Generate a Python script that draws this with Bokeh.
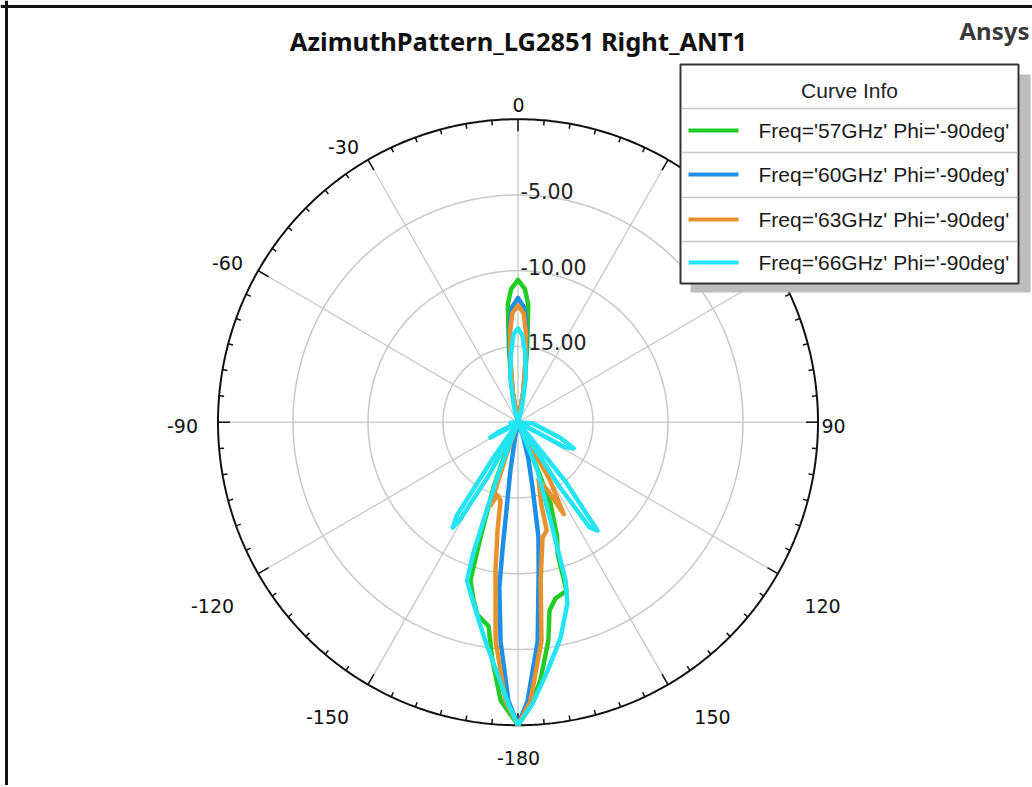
import numpy as np
from bokeh.plotting import figure
from bokeh.models import ColumnDataSource, Range1d, Span
from bokeh.core.properties import value
from bokeh.embed import file_html
from bokeh.resources import INLINE

# ---------------- data ----------------
TITLE = "AzimuthPattern_LG2851 Right_ANT1"
BRAND = "Ansys"
LEGEND_TITLE = "Curve Info"
SERIES_LABELS = ["Freq='57GHz' Phi='-90deg'", "Freq='60GHz' Phi='-90deg'",
                 "Freq='63GHz' Phi='-90deg'", "Freq='66GHz' Phi='-90deg'"]

RADIAL_MIN = -20.0
RADIAL_MAX = 0.0
RING_VALUES = [-15.0, -10.0, -5.0]
RING_LABELS = ["-15.00", "-10.00", "-5.00"]
SPOKE_ANGLES = [0, 30, 60, 90, 120, 150, 180, 210, 240, 270, 300, 330]
ANGLE_LABEL_VALUES = [0, -30, -60, -90, -120, -150, -180, 150, 120, 90]
ANGLE_LABEL_TEXTS = ["0", "-30", "-60", "-90", "-120", "-150", "-180", "150", "120", "90"]

# 57 GHz (green)
ANG_57 = [-180, -176.4, -173.8, -171.7, -168, -165.8, -163.1, -161.8, -159.2, -157, -155, -120,
          -30, -16, -13, -10, -7, -5, -3, 0, 3, 5, 7, 10, 13, 16, 30,
          120, 155, 157, 158, 161, 163.1, 163.8, 167.9, 170.4, 172, 175, 177.5, 180]
DB_57 = [0, -1.6, -4.2, -6.4, -7.0, -7.9, -9.1, -12.0, -15.4, -18.0, -21.0, -26.0,
         -25.0, -21.0, -19.0, -17.5, -15.0, -12.2, -11.2, -10.6, -11.2, -12.2, -15.0, -17.5, -19.0, -21.0, -25.0,
         -26.0, -21.0, -17.0, -14.2, -12.0, -10.9, -8.4, -8.1, -7.4, -5.45, -2.9, -1.2, 0]

# 60 GHz (blue)
ANG_60 = [-180, -178, -175.4, -173.5, -173, -172.5, -171, -169, -166, -120,
          -30, -14, -10, -7, -5, -3, 0, 3, 5, 7, 10, 14, 30,
          120, 157, 160, 164, 167.3, 169.8, 172, 174.8, 178, 180]
DB_60 = [0, -1.6, -5.5, -9.0, -11.5, -14.0, -16.7, -19.0, -21.0, -26.0,
         -25.0, -21.0, -18.0, -15.5, -13.5, -12.4, -11.8, -12.4, -13.5, -15.5, -18.0, -21.0, -25.0,
         -26.0, -21.0, -19.0, -17.5, -15.6, -12.3, -10.1, -5.5, -1.6, 0]

# 63 GHz (orange)
ANG_63 = [-180, -177.4, -174.1, -171.3, -169.2, -167.3, -164, -161.6, -160, -158, -120,
          -30, -14, -10, -7, -5, -3, 0, 3, 5, 7, 10, 14, 30,
          120, 148, 151, 153.3, 156, 160, 164, 165, 167.9, 171.8, 173.8, 177.4, 180]
DB_63 = [0, -1.6, -5.5, -10.1, -12.7, -14.7, -15.0, -14.2, -18.0, -21.0, -26.0,
         -25.0, -21.0, -18.0, -16.0, -14.0, -12.8, -12.3, -12.8, -14.0, -16.0, -18.0, -21.0, -25.0,
         -26.0, -21.0, -15.6, -13.2, -15.0, -16.0, -14.4, -12.6, -12.2, -9.4, -5.5, -1.6, 0]

# 66 GHz (cyan)
ANG_66 = [-180, -178, -175, -171, -166, -162, -161, -160.5, -159, -157, -155, -151, -149, -148,
          -146.5, -145, -143, -130, -121, -119, -116, -112, -95, -85,
          -30, -20, -15, -10, -6, -3, 0, 3, 6, 10, 15, 20, 30,
          85, 95, 110, 115, 118, 122, 130, 138, 141, 143.5, 145.5, 147, 149, 154,
          157.8, 161.5, 163.1, 164.6, 168.7, 173.1, 177, 180]
DB_66 = [0, -1.4, -3.5, -5.6, -7.7, -9.0, -10.8, -13.1, -16.5, -20.5, -22.0, -16.0, -12.5, -11.8,
         -12.6, -17.0, -22.0, -25.0, -19.0, -17.9, -18.6, -22.0, -19.5, -21.0,
         -24.0, -21.0, -19.0, -17.0, -15.5, -14.2, -13.8, -14.3, -15.4, -17.0, -19.0, -21.0, -24.0,
         -21.0, -19.0, -17.0, -15.9, -16.5, -21.0, -24.0, -21.0, -15.0, -11.1, -11.6, -15.0, -21.0, -22.0,
         -16.6, -13.2, -9.1, -7.6, -5.5, -3.5, -1.4, 0]

SERIES_ANGLES = [ANG_57, ANG_60, ANG_63, ANG_66]
SERIES_DB = [DB_57, DB_60, DB_63, DB_66]

# ---------------- styles / layout ----------------
COLORS = ["#22cc22", "#1e8fe6", "#e8922e", "#22e4f2"]
W, H = 1032, 785
ORIGIN = 0.0                    # page offset of the canvas
CX, CY = 517.5, 421.7           # page pixel of the pole
RX_PX, RY_PX = 300.0, 303.0     # outer circle radius in px
SPAN = RADIAL_MAX - RADIAL_MIN
SX, SY = RX_PX / SPAN, RY_PX / SPAN

def X(px):
    return (px - CX) / SX

def Y(py):
    return (CY - py) / SY

def polar(theta_deg, db):
    r = np.clip(np.asarray(db, dtype=float), RADIAL_MIN, RADIAL_MAX) - RADIAL_MIN
    t = np.radians(np.asarray(theta_deg, dtype=float))
    return r * np.sin(t), r * np.cos(t)

p = figure(width=W, height=H,
           x_range=Range1d(X(ORIGIN), X(ORIGIN + W)), y_range=Range1d(Y(ORIGIN + H), Y(ORIGIN)),
           x_axis_type=None, y_axis_type=None, toolbar_location=None,
           output_backend="svg", min_border=0, outline_line_color=None,
           background_fill_color="white", border_fill_color="white")

GRID_COLOR = "#c8c8c8"
full = np.linspace(0, 360, 721)

# spokes
sx0, sy0 = polar(SPOKE_ANGLES, [RADIAL_MIN] * len(SPOKE_ANGLES))
sx1, sy1 = polar(SPOKE_ANGLES, [RADIAL_MAX] * len(SPOKE_ANGLES))
p.segment(sx0, sy0, sx1, sy1, line_color=GRID_COLOR, line_width=1.3)

# rings
for rv in RING_VALUES:
    rx, ry = polar(full, np.full_like(full, rv))
    p.line(rx, ry, line_color=GRID_COLOR, line_width=1.5)

# radial labels (beneath curves)
lab_x = [X(CX + 2.5)] * len(RING_VALUES)
lab_y = [(rv - RADIAL_MIN) + 4.0 / SY for rv in RING_VALUES]
p.text(lab_x, lab_y, text=RING_LABELS, text_align="left", text_baseline="middle",
       text_font=value("DejaVu Sans"), text_font_size="20.5px", text_color="#222222")

# outer circle
ox, oy = polar(full, np.full_like(full, RADIAL_MAX))
p.line(ox, oy, line_color="#111111", line_width=2)

# ticks every 5 degrees, pointing inward
tick_angles = np.arange(0, 360, 5)
tick_len_px = np.where(tick_angles % 30 == 0, 12.0, 5.0)
tx0, ty0 = polar(tick_angles, np.full(tick_angles.shape, RADIAL_MAX))
tx1, ty1 = polar(tick_angles, RADIAL_MAX - tick_len_px / ((SX + SY) / 2))
p.segment(tx0, ty0, tx1, ty1, line_color="#111111", line_width=1.5)

# curves
for ang, db, col, lab in zip(SERIES_ANGLES, SERIES_DB, COLORS, SERIES_LABELS):
    cx_, cy_ = polar(ang, db)
    src = ColumnDataSource(dict(x=cx_, y=cy_, theta=ang, db=db))
    p.line("x", "y", source=src, line_color=col, line_width=4.5, line_join="round")

# angle labels: anchored on the outer circle + pixel offsets
LABEL_OFFSETS_PX = {0: (0.5, -14.7), -30: (-24.5, -12.3), -60: (-30.7, -8.2), -90: (-35.5, 3.3),
                    -120: (-45.7, 31.8), -150: (-40.5, 31.9), -180: (0.5, 32.3),
                    150: (44.5, 31.9), 120: (44.7, 31.8), 90: (15.5, 3.3)}
alx, aly = [], []
for a in ANGLE_LABEL_VALUES:
    bx, by = polar([a], [RADIAL_MAX])
    ox_px, oy_px = LABEL_OFFSETS_PX[a]
    alx.append(bx[0] + ox_px / SX)
    aly.append(by[0] - oy_px / SY)
p.text(alx, aly, text=ANGLE_LABEL_TEXTS, text_align="center", text_baseline="middle",
       text_font=value("DejaVu Sans"), text_font_size="19px", text_color="#111111")

# title and brand
p.text([X(518)], [Y(40)], text=[TITLE], text_align="center", text_baseline="middle",
       text_font=value("Noto Sans"), text_font_style="bold", text_font_size="25.5px",
       text_color="#111111")
p.text([X(1029)], [Y(30)], text=[BRAND], text_align="right", text_baseline="middle",
       text_font=value("Noto Sans"), text_font_style="bold", text_font_size="24px",
       text_color="#3a3a3a")

# legend box ("Curve Info")
p.quad(left=[X(690)], right=[X(1030)], top=[Y(74)], bottom=[Y(292)],
       fill_color="#bdbdbd", line_color=None)
p.quad(left=[X(680)], right=[X(1018)], top=[Y(64)], bottom=[Y(283)],
       fill_color="white", line_color="#333333", line_width=2)
sep_y = [Y(v) for v in (108, 152, 197, 241)]
p.segment([X(681)] * 4, sep_y, [X(1017)] * 4, sep_y, line_color=GRID_COLOR, line_width=1.5)
p.text([X(849)], [Y(90)], text=[LEGEND_TITLE], text_align="center", text_baseline="middle",
       text_font=value("Liberation Sans"), text_font_size="21px", text_color="#222222")
row_y = [Y(v) for v in (130, 174, 219, 262)]
p.segment([X(688)] * 4, row_y, [X(738)] * 4, row_y, line_color=COLORS, line_width=4)
p.text([X(758)] * 4, row_y, text=SERIES_LABELS, text_align="left", text_baseline="middle",
       text_font=value("Liberation Sans"), text_font_size="21px", text_color="#1a1a1a")

# outer frame (top and left edges)
p.add_layout(Span(location=Y(6), dimension="width", line_color="#111111", line_width=3))
p.add_layout(Span(location=X(6), dimension="height", line_color="#111111", line_width=3))

open("out.html", "w").write(file_html(p, INLINE))
